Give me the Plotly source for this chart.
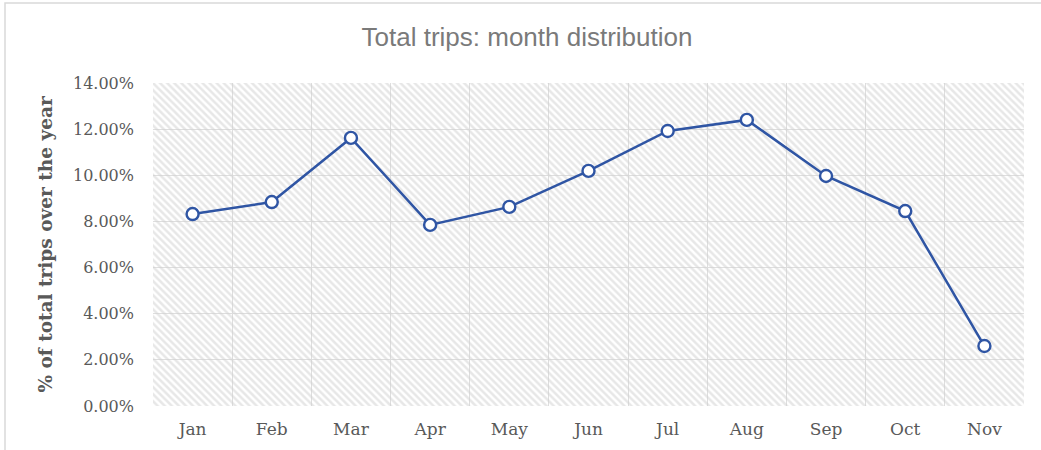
import plotly.graph_objects as go

# month distribution of total trips (fraction of year)
months = ["Jan", "Feb", "Mar", "Apr", "May", "Jun", "Jul", "Aug", "Sep", "Oct", "Nov"]
share = [0.0832, 0.0884, 0.1162, 0.0785, 0.0863, 0.1019, 0.1192, 0.1240, 0.0997, 0.0845, 0.0260]
y_max = 0.14

W, H = 1041, 450
M = dict(l=153, r=17, t=83, b=44)
pw = W - M["l"] - M["r"]
ph = H - M["t"] - M["b"]

fig = go.Figure()

# hatched plot-area background (Excel style pattern fill)
fig.add_trace(go.Bar(
    x=months,
    y=[y_max] * len(months),
    width=1,
    marker=dict(
        color="rgba(0,0,0,0)",
        line=dict(width=0),
        pattern=dict(shape="\\", fgcolor="#cfcfcf", bgcolor="rgba(0,0,0,0)",
                     size=5, solidity=0.5, fillmode="overlay"),
    ),
    hoverinfo="skip",
    showlegend=False,
))

fig.add_trace(go.Scatter(
    x=months,
    y=share,
    mode="lines+markers",
    line=dict(color="#2f55a4", width=2.5),
    marker=dict(symbol="circle", size=12, color="white",
                line=dict(color="#2f55a4", width=2.4)),
    showlegend=False,
))

serif = "DejaVu Serif, Liberation Serif, serif"

fig.update_layout(
    width=W, height=H,
    margin=M,
    paper_bgcolor="white",
    plot_bgcolor="white",
    bargap=0,
    title=dict(
        text="Total trips: month distribution",
        x=527 / W, xanchor="center",
        y=(H - 37) / H, yanchor="middle",
        font=dict(family="Liberation Sans, Arial, sans-serif", size=26, color="#7a7a7a"),
    ),
    shapes=[dict(
        type="rect", xref="paper", yref="paper",
        x0=(5 - M["l"]) / pw, x1=(1060 - M["l"]) / pw,
        y0=(H - M["b"] - 470) / ph, y1=(H - M["b"] - 3) / ph,
        line=dict(color="#d9d9d9", width=1.5), fillcolor="rgba(0,0,0,0)",
        layer="below",
    )],
)

fig.update_xaxes(
    type="category",
    tickson="boundaries",
    showgrid=True, gridcolor="#dedede", gridwidth=1,
    showline=False, zeroline=False,
    ticks="", ticklabelstandoff=11,
    tickfont=dict(family=serif, size=17, color="#595959"),
    range=[-0.5, len(months) - 0.5],
)

fig.update_yaxes(
    range=[0, y_max],
    dtick=0.02,
    tickformat=".2%",
    showgrid=True, gridcolor="#dedede", gridwidth=1,
    zeroline=False, showline=False,
    ticks="", ticklabelstandoff=18,
    tickfont=dict(family=serif, size=16, color="#595959"),
    title=dict(text="<b>% of total trips over the year</b>", standoff=15,
               font=dict(family=serif, size=18.5, color="#595959")),
)

# the page body has an 8px default margin; remove it so the chart sits at 0,0
fig.write_html("out.html", config={"displayModeBar": False},
               post_script="document.body.style.margin='0';")
